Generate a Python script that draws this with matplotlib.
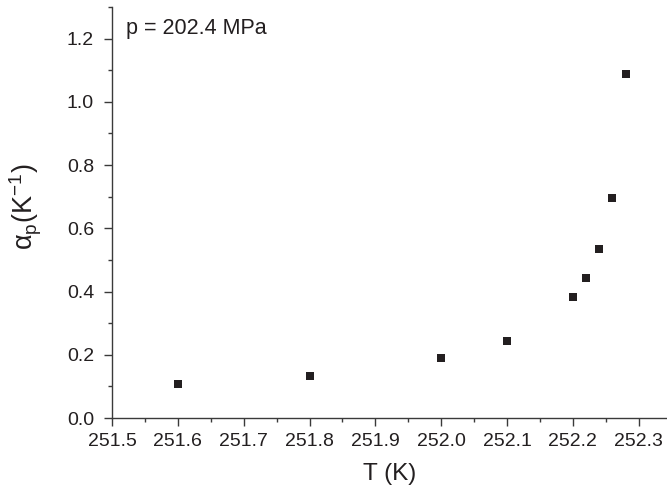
import matplotlib
matplotlib.use("Agg")
import matplotlib.pyplot as plt
from matplotlib.ticker import MultipleLocator

# data
temperature = [251.6, 251.8, 252.0, 252.1, 252.2, 252.22, 252.24, 252.26, 252.28]
alpha_p = [0.108, 0.133, 0.190, 0.244, 0.384, 0.444, 0.535, 0.695, 1.089]

x_ticks = [251.5, 251.6, 251.7, 251.8, 251.9, 252.0, 252.1, 252.2, 252.3]
y_ticks = [0.0, 0.2, 0.4, 0.6, 0.8, 1.0, 1.2]

ink = "#231f20"

plt.rcParams["font.family"] = ["Liberation Sans", "DejaVu Sans"]
plt.rcParams["mathtext.fontset"] = "custom"
plt.rcParams["mathtext.rm"] = "Liberation Sans"
plt.rcParams["mathtext.it"] = "Liberation Sans:italic"

fig = plt.figure(figsize=(6.67, 4.93), dpi=100)
ax = fig.add_axes([0.168, 0.152, 0.832, 0.834])

ax.plot(temperature, alpha_p, linestyle="none", marker="s", markersize=6.3,
        color=ink, markeredgewidth=0)

ax.set_xlim(251.5, 252.343)
ax.set_ylim(0.0, 1.30)
ax.set_xticks(x_ticks)
ax.set_yticks(y_ticks)
ax.set_xticklabels(["{:.1f}".format(v) for v in x_ticks])
ax.set_yticklabels(["{:.1f}".format(v) for v in y_ticks])
ax.xaxis.set_minor_locator(MultipleLocator(0.05))
ax.yaxis.set_minor_locator(MultipleLocator(0.1))

for side in ["top", "right"]:
    ax.spines[side].set_visible(False)
for side in ["left", "bottom"]:
    ax.spines[side].set_color("#3a3a3a")
    ax.spines[side].set_linewidth(1.0)

ax.tick_params(which="major", direction="out", length=6, width=1.0,
               color="#3a3a3a", labelsize=14, labelcolor=ink)
ax.tick_params(which="minor", direction="out", length=3, width=1.0,
               color="#3a3a3a")
ax.tick_params(axis="x", which="major", pad=5)
ax.tick_params(axis="y", which="major", pad=7)

ax.set_xlabel("T (K)", fontsize=17.5, color=ink, labelpad=9)
ax.set_ylabel("α$_\\mathrm{p}$(K$^{-1}$)", fontsize=19.5, color=ink)
ax.yaxis.set_label_coords(-0.122, 0.515)

ax.text(0.025, 0.972, "p = 202.4 MPa", transform=ax.transAxes,
        fontsize=15.5, color=ink, va="top", ha="left")

fig.savefig("out.png", dpi=100)
